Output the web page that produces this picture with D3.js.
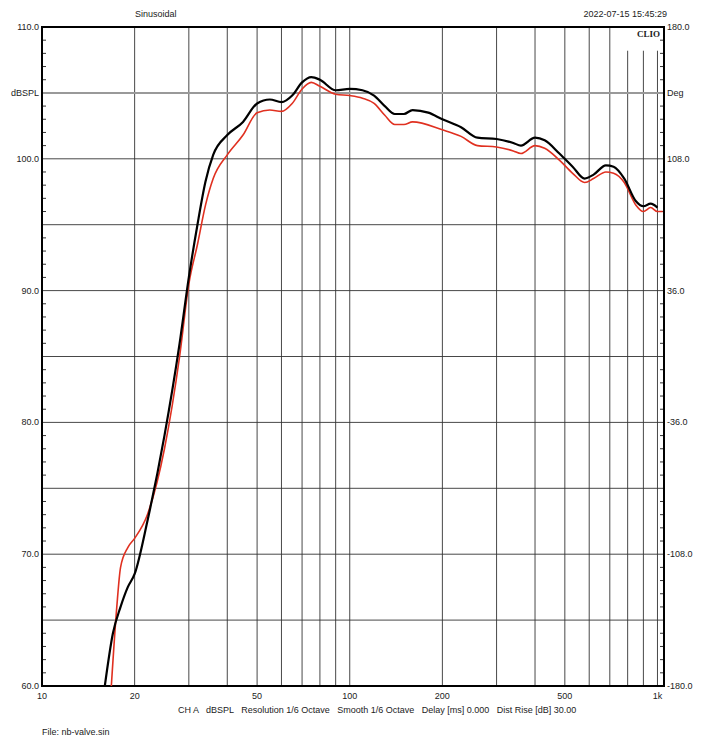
<!DOCTYPE html><html><head><meta charset="utf-8"><script src="https://d3js.org/d3.v7.min.js"></script>
<style>body{margin:0;background:#fff}text{font-family:"Liberation Sans",Arial,sans-serif;font-size:9px;fill:#222;white-space:pre}</style></head><body><svg id="c" width="705" height="738"></svg><script>
const freqB=[16,17,18,19,20,22,25,28,30,32,34,36,40,45,50,55,60,65,70,75,80,90,100,110,120,130,140,150,160,180,200,230,260,300,340,360,400,430,480,530,580,620,680,720,780,850,900,950,1000];
const black=[60,64,66,67.5,68.5,72.5,79,86,91,95,98.3,100.3,101.8,102.8,104.2,104.5,104.3,104.8,105.8,106.2,106.0,105.2,105.3,105.2,104.8,104.0,103.4,103.4,103.7,103.5,103.0,102.4,101.6,101.5,101.2,101.0,101.6,101.4,100.4,99.4,98.5,98.8,99.5,99.4,98.5,96.8,96.4,96.6,96.3];
const freqR=[16.8,17.5,18,19,20,22,25,28,30,32,34,36,40,45,50,55,60,65,70,75,80,90,100,110,120,130,140,150,160,200,230,260,300,340,360,400,430,480,530,580,620,680,720,780,850,900,950,1000,1040];
const red=[60,66,69,70.5,71.2,73,78,85,90.5,93.5,96.5,98.5,100.3,101.8,103.5,103.7,103.6,104.2,105.3,105.8,105.5,104.9,104.8,104.6,104.2,103.3,102.6,102.6,102.8,102.2,101.7,101.0,100.9,100.6,100.4,101.0,100.8,99.9,98.9,98.2,98.5,99.0,98.9,98.2,96.5,96.0,96.3,96.0,96.0];
const xTicks=[10,20,50,100,200,500,1000];
const xTickLabels=["10","20","50","100","200","500","1k"];
const yLabels=[60,70,80,90,100,110];
const degLabels=["-180.0","-108.0","-36.0","36.0","108.0","Deg","180.0"];
const degVals=[-180,-108,-36,36,108,144,180];
const svg=d3.select("#c");
const L=42,R=664,T=27,B=686;
const x=d3.scaleLog().domain([10,1050]).range([L,R]);
const y=d3.scaleLinear().domain([60,110]).range([B,T]);
const yd=d3.scaleLinear().domain([-180,180]).range([B,T]);
const g=svg.append("g");
const vg=[];for(let d=10;d<=1000;d*=10)for(let k=1;k<10;k++){const f=d*k;if(f>10&&f<=1000)vg.push(f);}
g.selectAll(".v").data(vg).join("line").attr("x1",d=>x(d)).attr("x2",d=>x(d)).attr("y1",d=>d>=800?y(108.2):T).attr("y2",B).attr("stroke","#333").attr("stroke-width",0.9);
g.selectAll(".h").data(d3.range(65,110,5)).join("line").attr("x1",L).attr("x2",R).attr("y1",d=>y(d)).attr("y2",d=>y(d)).attr("stroke",d=>d===105?"#999":"#333").attr("stroke-width",d=>d===105?2:0.9);
const minor=d3.range(61,110).filter(d=>d%5);
g.selectAll(".ml").data(minor).join("line").attr("x1",L).attr("x2",L+4).attr("y1",d=>y(d)).attr("y2",d=>y(d)).attr("stroke","#333");
g.selectAll(".mr").data(minor).join("line").attr("x1",R-4).attr("x2",R).attr("y1",d=>y(d)).attr("y2",d=>y(d)).attr("stroke","#333");
g.append("rect").attr("x",L).attr("y",T).attr("width",R-L).attr("height",B-T).attr("fill","none").attr("stroke","#000").attr("stroke-width",2);
g.selectAll(".yl").data(yLabels).join("text").attr("x",L-3).attr("y",d=>y(d)+3).attr("text-anchor","end").text(d=>d.toFixed(1));
g.append("text").attr("x",L-3).attr("y",y(105)+3).attr("text-anchor","end").text("dBSPL");
svg.selectAll(".dl2").data(degLabels).join("text").attr("x",R+3).attr("y",(d,i)=>yd(degVals[i])+3).text(d=>d);
g.selectAll(".xl").data(xTicks).join("text").attr("x",d=>x(d)).attr("y",B+13).attr("text-anchor","middle").text((d,i)=>xTickLabels[i]);
svg.append("text").attr("x",135).attr("y",17).text("Sinusoidal");
svg.append("text").attr("x",667).attr("y",17).attr("text-anchor","end").text("2022-07-15 15:45:29");
svg.append("text").attr("x",660).attr("y",37).attr("text-anchor","end").style("font-weight","bold").style("font-family","Liberation Serif").style("font-size","9px").text("CLIO");
svg.append("text").attr("x",178).attr("y",713).text("CH A   dBSPL   Resolution 1/6 Octave   Smooth 1/6 Octave   Delay [ms] 0.000   Dist Rise [dB] 30.00");
svg.append("text").attr("x",42).attr("y",735).text("File: nb-valve.sin");
const line=d3.line().x(d=>x(d[0])).y(d=>y(d[1])).curve(d3.curveMonotoneX);
svg.append("path").attr("d",line(freqR.map((f,i)=>[f,red[i]]))).attr("fill","none").attr("stroke","#e03020").attr("stroke-width",1.6);
svg.append("path").attr("d",line(freqB.map((f,i)=>[f,black[i]]))).attr("fill","none").attr("stroke","#000").attr("stroke-width",2.2);
</script></body></html>
